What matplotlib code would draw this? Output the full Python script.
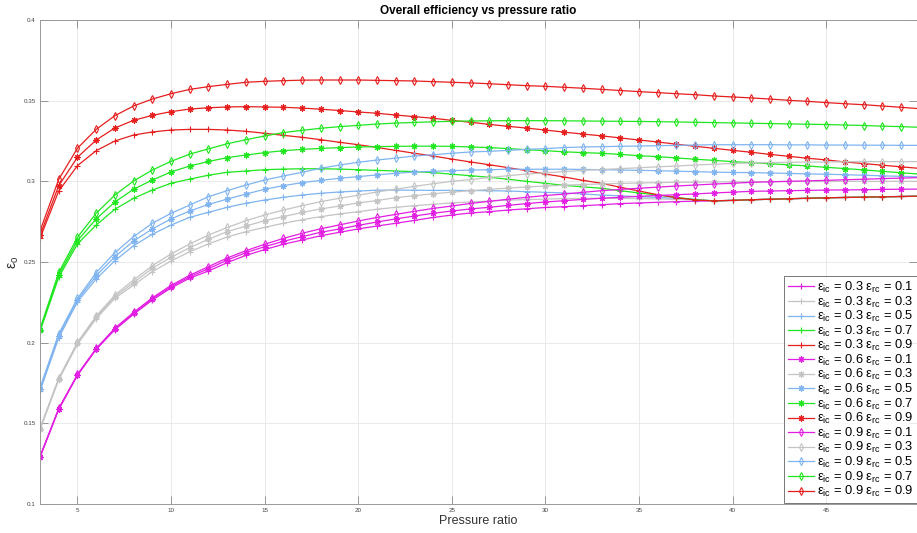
import matplotlib
matplotlib.use("Agg")
import matplotlib.pyplot as plt

plt.rcParams['font.family'] = ['Liberation Sans', 'DejaVu Sans']
plt.rcParams['mathtext.default'] = 'regular'

# pressure ratio
pr = list(range(3, 51))

# overall efficiency, one list per (ic, rc) pair
eta_ic03_rc01 = [.1290, .1586, .1797, .1958, .2080, .2176, .2264, .2339, .2400, .2444, .2496, .2541,
                 .2577, .2610, .2636, .2663, .2684, .2705, .2723, .2740, .2758, .2776, .2791, .2804,
                 .2812, .2822, .2830, .2838, .2843, .2849, .2855, .2862, .2866, .2870, .2874, .2877,
                 .2879, .2882, .2886, .2889, .2892, .2895, .2898, .2900, .2902, .2904, .2906, .2908]
eta_ic03_rc03 = [.1460, .1770, .1990, .2148, .2275, .2357, .2440, .2506, .2564, .2612, .2655, .2688,
                 .2715, .2740, .2762, .2781, .2798, .2812, .2827, .2839, .2849, .2858, .2866, .2872,
                 .2878, .2883, .2887, .2890, .2893, .2894, .2895, .2894, .2893, .2891, .2888, .2885,
                 .2879, .2882, .2886, .2889, .2892, .2895, .2898, .2900, .2902, .2904, .2906, .2908]
eta_ic03_rc05 = [.1700, .2030, .2253, .2395, .2508, .2601, .2672, .2729, .2777, .2808, .2839, .2864,
                 .2884, .2901, .2915, .2926, .2934, .2940, .2945, .2946, .2945, .2944, .2944, .2943,
                 .2942, .2940, .2936, .2932, .2928, .2922, .2915, .2910, .2905, .2900, .2895, .2889,
                 .2879, .2882, .2886, .2889, .2892, .2895, .2898, .2900, .2902, .2904, .2906, .2908]
eta_ic03_rc07 = [.2070, .2405, .2612, .2729, .2827, .2895, .2946, .2988, .3014, .3038, .3056, .3064,
                 .3072, .3076, .3078, .3078, .3076, .3072, .3068, .3064, .3060, .3054, .3044, .3035,
                 .3025, .3013, .3000, .2988, .2975, .2966, .2957, .2942, .2928, .2915, .2901, .2886,
                 .2879, .2882, .2886, .2889, .2892, .2895, .2898, .2900, .2902, .2904, .2906, .2908]
eta_ic03_rc09 = [.2647, .2940, .3097, .3190, .3250, .3287, .3306, .3318, .3322, .3322, .3318, .3310,
                 .3298, .3285, .3273, .3258, .3242, .3227, .3210, .3192, .3174, .3157, .3138, .3120,
                 .3103, .3085, .3066, .3045, .3027, .3006, .2988, .2963, .2940, .2917, .2899, .2884,
                 .2879, .2882, .2886, .2889, .2892, .2895, .2898, .2900, .2902, .2904, .2906, .2908]

eta_ic06_rc01 = [.1293, .1589, .1800, .1961, .2085, .2182, .2271, .2347, .2409, .2458, .2512, .2558,
                 .2595, .2628, .2657, .2684, .2705, .2727, .2748, .2767, .2785, .2802, .2816, .2829,
                 .2839, .2851, .2862, .2872, .2880, .2888, .2895, .2901, .2907, .2912, .2917, .2922,
                 .2928, .2933, .2938, .2940, .2942, .2944, .2946, .2947, .2948, .2950, .2951, .2952]
eta_ic06_rc03 = [.1465, .1775, .1996, .2157, .2285, .2372, .2461, .2529, .2589, .2641, .2688, .2723,
                 .2756, .2781, .2807, .2829, .2847, .2866, .2881, .2899, .2911, .2923, .2933, .2942,
                 .2950, .2958, .2965, .2971, .2976, .2980, .2984, .2987, .2990, .2992, .2994, .2995,
                 .2996, .2997, .2998, .2998, .2999, .2999, .2999, .3000, .3000, .3000, .3000, .3000]
eta_ic06_rc05 = [.1711, .2043, .2264, .2415, .2533, .2630, .2705, .2767, .2816, .2857, .2890, .2921,
                 .2951, .2973, .2992, .3006, .3019, .3029, .3040, .3050, .3058, .3062, .3066, .3070,
                 .3072, .3075, .3075, .3075, .3075, .3074, .3072, .3070, .3068, .3066, .3063, .3060,
                 .3057, .3055, .3054, .3052, .3049, .3046, .3044, .3041, .3038, .3034, .3031, .3028]
eta_ic06_rc07 = [.2078, .2420, .2632, .2767, .2872, .2951, .3008, .3058, .3095, .3123, .3147, .3163,
                 .3178, .3190, .3198, .3204, .3209, .3213, .3215, .3217, .3218, .3218, .3217, .3213,
                 .3209, .3203, .3196, .3190, .3183, .3178, .3174, .3167, .3159, .3153, .3145, .3137,
                 .3130, .3122, .3116, .3109, .3102, .3095, .3087, .3079, .3071, .3062, .3053, .3045]
eta_ic06_rc09 = [.2665, .2973, .3149, .3256, .3331, .3378, .3409, .3432, .3448, .3456, .3461, .3463,
                 .3461, .3459, .3454, .3447, .3439, .3430, .3422, .3411, .3401, .3391, .3378, .3366,
                 .3353, .3341, .3330, .3318, .3305, .3293, .3282, .3269, .3256, .3244, .3230, .3217,
                 .3205, .3192, .3180, .3167, .3155, .3143, .3133, .3120, .3110, .3100, .3090, .3080]

eta_ic09_rc01 = [.1295, .1592, .1803, .1964, .2090, .2188, .2278, .2355, .2418, .2471, .2525, .2570,
                 .2610, .2646, .2678, .2706, .2730, .2754, .2776, .2795, .2814, .2832, .2847, .2863,
                 .2876, .2889, .2901, .2912, .2921, .2932, .2942, .2950, .2957, .2964, .2971, .2977,
                 .2983, .2988, .2994, .2997, .3000, .3003, .3006, .3010, .3013, .3017, .3020, .3023]
eta_ic09_rc03 = [.1470, .1780, .2002, .2165, .2295, .2388, .2477, .2550, .2612, .2667, .2714, .2756,
                 .2791, .2822, .2849, .2874, .2895, .2914, .2934, .2951, .2969, .2985, .3000, .3011,
                 .3024, .3035, .3045, .3053, .3060, .3068, .3073, .3079, .3084, .3090, .3095, .3101,
                 .3106, .3111, .3114, .3116, .3118, .3119, .3120, .3121, .3122, .3122, .3122, .3122]
eta_ic09_rc05 = [.1720, .2055, .2274, .2434, .2558, .2657, .2740, .2802, .2853, .2905, .2942, .2977,
                 .3008, .3033, .3056, .3081, .3101, .3118, .3132, .3144, .3157, .3165, .3174, .3182,
                 .3186, .3192, .3198, .3203, .3209, .3213, .3215, .3217, .3219, .3221, .3223, .3225,
                 .3227, .3227, .3227, .3227, .3226, .3226, .3225, .3225, .3224, .3224, .3223, .3223]
eta_ic09_rc07 = [.2085, .2435, .2653, .2802, .2915, .3002, .3070, .3124, .3169, .3201, .3233, .3258,
                 .3281, .3302, .3316, .3329, .3339, .3347, .3355, .3361, .3365, .3369, .3372, .3374,
                 .3375, .3376, .3376, .3376, .3375, .3374, .3373, .3372, .3371, .3370, .3368, .3366,
                 .3364, .3362, .3360, .3358, .3356, .3354, .3352, .3349, .3346, .3342, .3339, .3335]
eta_ic09_rc09 = [.2692, .3012, .3205, .3322, .3407, .3467, .3510, .3543, .3570, .3587, .3601, .3614,
                 .3620, .3624, .3627, .3628, .3628, .3628, .3626, .3624, .3622, .3618, .3614, .3610,
                 .3605, .3599, .3593, .3589, .3583, .3577, .3570, .3563, .3556, .3550, .3543, .3537,
                 .3529, .3523, .3517, .3510, .3502, .3496, .3488, .3481, .3475, .3467, .3459, .3450]

ic_values = ['0.3', '0.6', '0.9']
rc_values = ['0.1', '0.3', '0.5', '0.7', '0.9']
series = [
    [eta_ic03_rc01, eta_ic03_rc03, eta_ic03_rc05, eta_ic03_rc07, eta_ic03_rc09],
    [eta_ic06_rc01, eta_ic06_rc03, eta_ic06_rc05, eta_ic06_rc07, eta_ic06_rc09],
    [eta_ic09_rc01, eta_ic09_rc03, eta_ic09_rc05, eta_ic09_rc07, eta_ic09_rc09],
]

colors = ['#e31ee3', '#c4c4c4', '#7fb4f0', '#1fe61f', '#e61e1e']
# plus, asterisk, open diamond
markers = ['+', (8, 2, 0), 'd']
msizes = [5, 4.5, 4.2]

fig = plt.figure(figsize=(9.17, 5.33), dpi=100)
ax = fig.add_axes([40 / 917, 1 - 504 / 533, 877 / 917, 484 / 533])

for i, ic in enumerate(ic_values):
    for j, rc in enumerate(rc_values):
        lab = 'ε$_{ic}$ = ' + ic + ' ε$_{rc}$ = ' + rc
        ax.plot(pr, series[i][j], color=colors[j], marker=markers[i], markersize=msizes[i],
                markerfacecolor='none', markeredgewidth=0.8, linewidth=0.9, label=lab)

ax.set_xlim(3, 49.85)
ax.set_ylim(0.1, 0.4)
ax.set_xticks([5, 10, 15, 20, 25, 30, 35, 40, 45])
ax.set_yticks([0.1, 0.15, 0.2, 0.25, 0.3, 0.35, 0.4])
ax.set_yticklabels(['0.1', '0.15', '0.2', '0.25', '0.3', '0.35', '0.4'])
ax.tick_params(direction='in', length=6, width=0.6, colors='#888888', labelsize=4.5,
               labelcolor='#444444', top=True, right=True, pad=3)
ax.grid(True, color='#e6e6e6', linewidth=0.6)
for side in ['left', 'bottom', 'top', 'right']:
    ax.spines[side].set_color('#999999')
    ax.spines[side].set_linewidth(0.7)

ax.set_title('Overall efficiency vs pressure ratio', fontsize=8.5, fontweight='bold', pad=4)
ax.set_xlabel('Pressure ratio', fontsize=9, labelpad=1, color='#333333')
ax.set_ylabel('ε$_o$', fontsize=10, labelpad=2, color='#333333')

leg = ax.legend(loc='lower right', bbox_to_anchor=(1.0, 0.002), fontsize=9.3,
                frameon=True, fancybox=False, borderaxespad=0, handlelength=2.0,
                handletextpad=0.2, labelspacing=-0.04, borderpad=0.3)
leg.get_frame().set_edgecolor('#555555')
leg.get_frame().set_linewidth(0.7)

fig.savefig('out.png', dpi=100)
